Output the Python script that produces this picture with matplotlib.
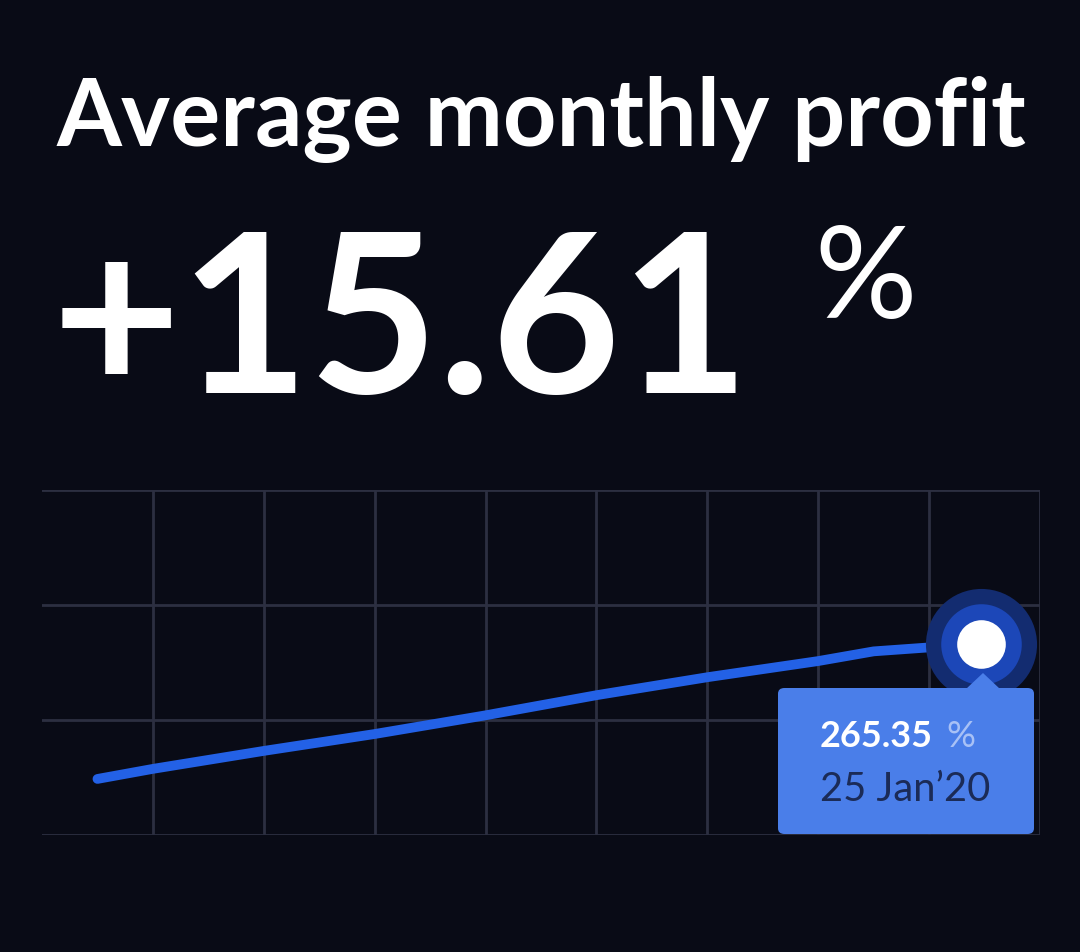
import matplotlib

matplotlib.use("Agg")
import matplotlib.pyplot as plt
from matplotlib.patches import FancyBboxPatch, Polygon

# --- data ---
x_vals = [0.5, 1, 2, 3, 4, 5, 6, 7, 7.5, 8, 8.47]
y_vals = [78, 92, 117, 140.5, 166.5, 194.5, 219.5, 242, 255.5, 261, 265.35]
headline = "Average monthly profit"
big_value = "+15.61"
tip_value = "265.35"
tip_date = "25 Jan\u201920"

BG = "#090b16"
GRID = "#2c2f41"
LINE = "#2361e6"
TIP = "#4a7ee9"

W, H = 1080, 953
fig = plt.figure(figsize=(W / 100, H / 100), dpi=100, facecolor=BG)
plt.rcParams["font.family"] = ["Lato", "DejaVu Sans"]


def fit_text(x, y, s, target_w, size, **kw):
    t = fig.text(x / W, 1 - y / H, s, fontsize=size, **kw)
    r = fig.canvas.get_renderer()
    w = t.get_window_extent(r).width
    t.set_fontsize(size * target_w / w)
    return t


fit_text(57, 146, headline, 970, 60, color="white", fontweight="bold", va="baseline")
fit_text(52, 393, big_value, 698, 170, color="white", fontweight="bold", va="baseline")
fig.text(814 / W, 1 - 318 / H, "%", fontsize=92, color="white",
         fontweight="normal", va="baseline")

# --- chart area ---
ax = fig.add_axes([42 / W, 1 - 836 / H, 998 / W, 345 / H])
ax.set_facecolor(BG)
ax.set_xlim(0, 9)
ax.set_ylim(0, 480)
for xv in range(1, 10):
    ax.axvline(xv, color=GRID, lw=2, zorder=1)
for yv in (0, 160, 320, 480):
    ax.axhline(yv, color=GRID, lw=2, zorder=1)
for s in ax.spines.values():
    s.set_visible(False)
ax.set_xticks([])
ax.set_yticks([])

ax.plot(x_vals, y_vals, color=LINE, lw=7, solid_capstyle="round",
        solid_joinstyle="round", zorder=3)

# end-point marker with halo
ex, ey = x_vals[-1], y_vals[-1]
ax.plot([ex], [ey], "o", ms=80, color="#132c70", mec="none", zorder=4, clip_on=False)
ax.plot([ex], [ey], "o", ms=58, color="#1c47b8", mec="none", zorder=5, clip_on=False)
ax.plot([ex], [ey], "o", ms=35, color="white", mec="none", zorder=6, clip_on=False)

# tooltip
box = FancyBboxPatch((778 / W, 1 - 835 / H), 256 / W, 146 / H,
                     boxstyle="round,pad=0,rounding_size=0.006",
                     transform=fig.transFigure, fc=TIP, ec="none", zorder=7)
fig.patches.append(box)
tri = Polygon([(966 / W, 1 - 690 / H), (983 / W, 1 - 674 / H), (1000 / W, 1 - 690 / H)],
              closed=True, transform=fig.transFigure, fc=TIP, ec="none", zorder=7)
fig.patches.append(tri)

t1 = fit_text(820, 747, tip_value, 113, 19, color="white",
              fontweight="bold", va="baseline", zorder=8)
r = fig.canvas.get_renderer()
bb = t1.get_window_extent(r)
fig.text((bb.x1 + 13) / W, 1 - 747 / H, "%", fontsize=t1.get_fontsize(),
         color="#a8c1f6", fontweight="normal", va="baseline", zorder=8)
fit_text(820, 801, tip_date, 170, 20, color="#1b2b57", va="baseline", zorder=8)

fig.savefig("out.png", dpi=100, facecolor=BG)
